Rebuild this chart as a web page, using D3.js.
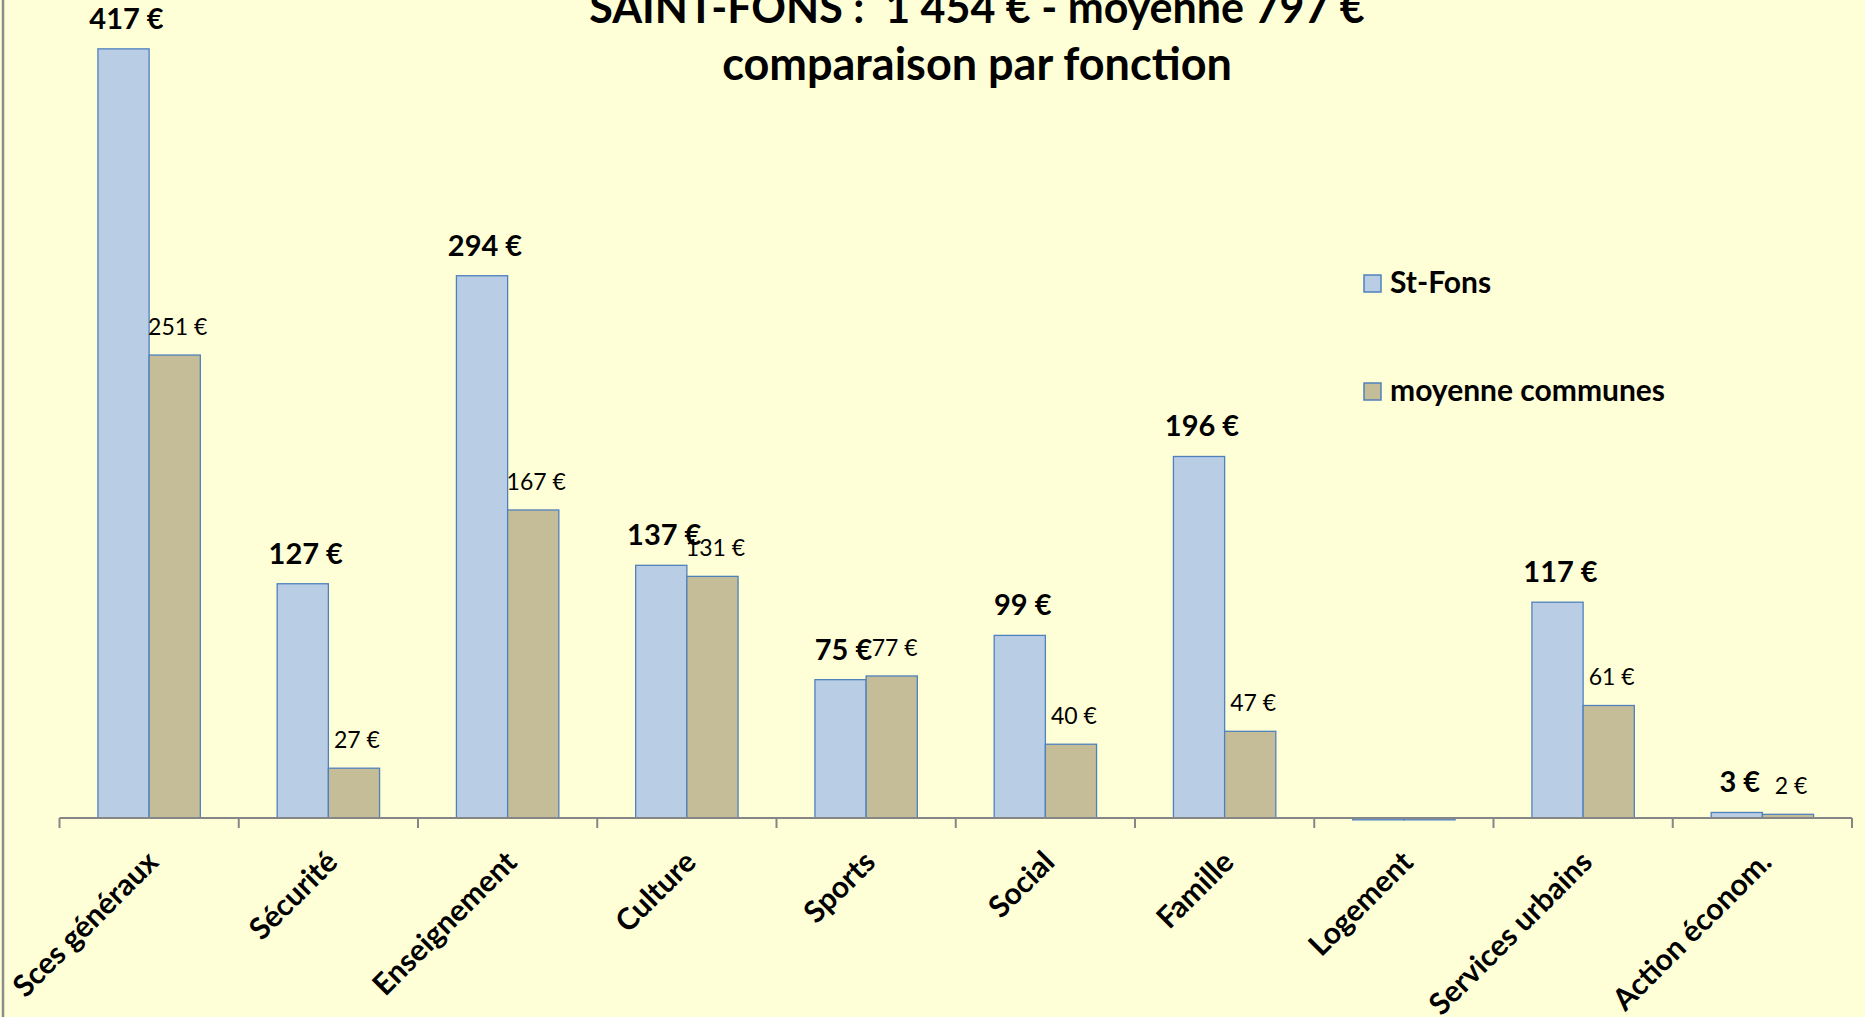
<!DOCTYPE html>
<html>
<head>
<meta charset="utf-8">
<script src="https://cdn.jsdelivr.net/npm/d3@7"></script>
<style>
  body { margin: 0; background: #ffffd7; }
  text { font-family: Lato, "Open Sans", sans-serif; }
</style>
</head>
<body>
<div id="chart"></div>
<script>
// data
const categories = ['Sces généraux', 'Sécurité', 'Enseignement', 'Culture', 'Sports',
  'Social', 'Famille', 'Logement', 'Services urbains', 'Action économ.']
const stFons = [417, 127, 294, 137, 75, 99, 196, -1, 117, 3]
const moyenne = [251, 27, 167, 131, 77, 40, 47, -1, 61, 2]
const seriesNames = ['St-Fons', 'moyenne communes']
const titleLines = ['SAINT-FONS :  1 454 € - moyenne 797 €', 'comparaison par fonction']

const width = 1865, height = 1017
const plot = {left: 59.5, right: 1852, top: -12, bottom: 818}
const colors = [{fill: '#b9cde5', stroke: '#4f81bd'}, {fill: '#c4bd97', stroke: '#4f81bd'}]

const svg = d3.select('#chart').append('svg')
  .attr('width', width)
  .attr('height', height)

svg.append('rect')
  .attr('width', width).attr('height', height)
  .attr('fill', '#ffffd7')

// left border of the chart area
svg.append('line')
  .attr('x1', 3).attr('x2', 3).attr('y1', 0).attr('y2', height)
  .attr('stroke', '#8c8c8c').attr('stroke-width', 2.5)

const x0 = d3.scaleBand()
  .domain(categories)
  .range([plot.left, plot.right])

const barW = 51.2
const x1 = d3.scaleBand()
  .domain(seriesNames)
  .range([x0.bandwidth() / 2 - barW, x0.bandwidth() / 2 + barW])

const y = d3.scaleLinear()
  .domain([0, 450])
  .range([plot.bottom, plot.top])

const rows = categories.map((c, i) => ({cat: c, values: [stFons[i], moyenne[i]]}))

// bars
const groups = svg.append('g').selectAll('g')
  .data(rows).enter()
  .append('g')
    .attr('transform', d => 'translate(' + x0(d.cat) + ',0)')

groups.selectAll('rect')
  .data(d => d.values.map((v, k) => ({name: seriesNames[k], k: k, v: v})))
  .enter().append('rect')
    .attr('x', d => x1(d.name))
    .attr('width', x1.bandwidth())
    .attr('y', d => y(Math.max(0, d.v)))
    .attr('height', d => Math.abs(y(d.v) - y(0)))
    .attr('fill', d => colors[d.k].fill)
    .attr('stroke', d => colors[d.k].stroke)
    .attr('stroke-width', 1.3)

// value labels (St-Fons bold, moyenne regular)
groups.selectAll('text')
  .data(d => d.values.map((v, k) => ({name: seriesNames[k], k: k, v: v})).filter(d => d.v > 0))
  .enter().append('text')
    .attr('x', d => x1(d.name) + x1.bandwidth() / 2 + 3)
    .attr('y', d => y(d.v) - 20)
    .attr('text-anchor', 'middle')
    .attr('font-weight', d => d.k === 0 ? 'bold' : 'normal')
    .attr('font-size', d => d.k === 0 ? 29 : 23)
    .attr('fill', '#000')
    .text(d => d.v + ' €')

// x axis
const axis = svg.append('g').attr('stroke', '#868686')
axis.append('line')
  .attr('x1', plot.left).attr('x2', plot.right)
  .attr('y1', y(0)).attr('y2', y(0))
  .attr('stroke-width', 2)

const tickPos = categories.map(c => x0(c)).concat([plot.right])
axis.selectAll('line.tick')
  .data(tickPos).enter()
  .append('line')
    .attr('class', 'tick')
    .attr('x1', d => d).attr('x2', d => d)
    .attr('y1', y(0)).attr('y2', y(0) + 10)
    .attr('stroke-width', 2)

svg.append('g').selectAll('text')
  .data(categories).enter()
  .append('text')
    .attr('transform', d => 'translate(' + (x0(d) + x0.bandwidth() / 2 + 11) + ',' + (y(0) + 46) + ') rotate(-45)')
    .attr('text-anchor', 'end')
    .attr('font-weight', 'bold')
    .attr('font-size', 30)
    .text(d => d)

// title
svg.append('g').selectAll('text')
  .data(titleLines).enter()
  .append('text')
    .attr('x', 977)
    .attr('y', (d, i) => 23 + i * 57)
    .attr('text-anchor', 'middle')
    .attr('font-weight', 'bold')
    .attr('font-size', (d, i) => i === 0 ? 43 : 45)
    .style('white-space', 'pre')
    .text(d => d)

// legend
const legend = svg.append('g').selectAll('g')
  .data(seriesNames).enter()
  .append('g')
    .attr('transform', (d, i) => 'translate(1364,' + (275 + i * 108) + ')')

legend.append('rect')
  .attr('width', 17).attr('height', 17)
  .attr('fill', (d, i) => colors[i].fill)
  .attr('stroke', (d, i) => colors[i].stroke)
  .attr('stroke-width', 1.5)

legend.append('text')
  .attr('x', 26).attr('y', 18)
  .attr('font-weight', 'bold')
  .attr('font-size', 30)
  .text(d => d)
</script>
</body>
</html>
